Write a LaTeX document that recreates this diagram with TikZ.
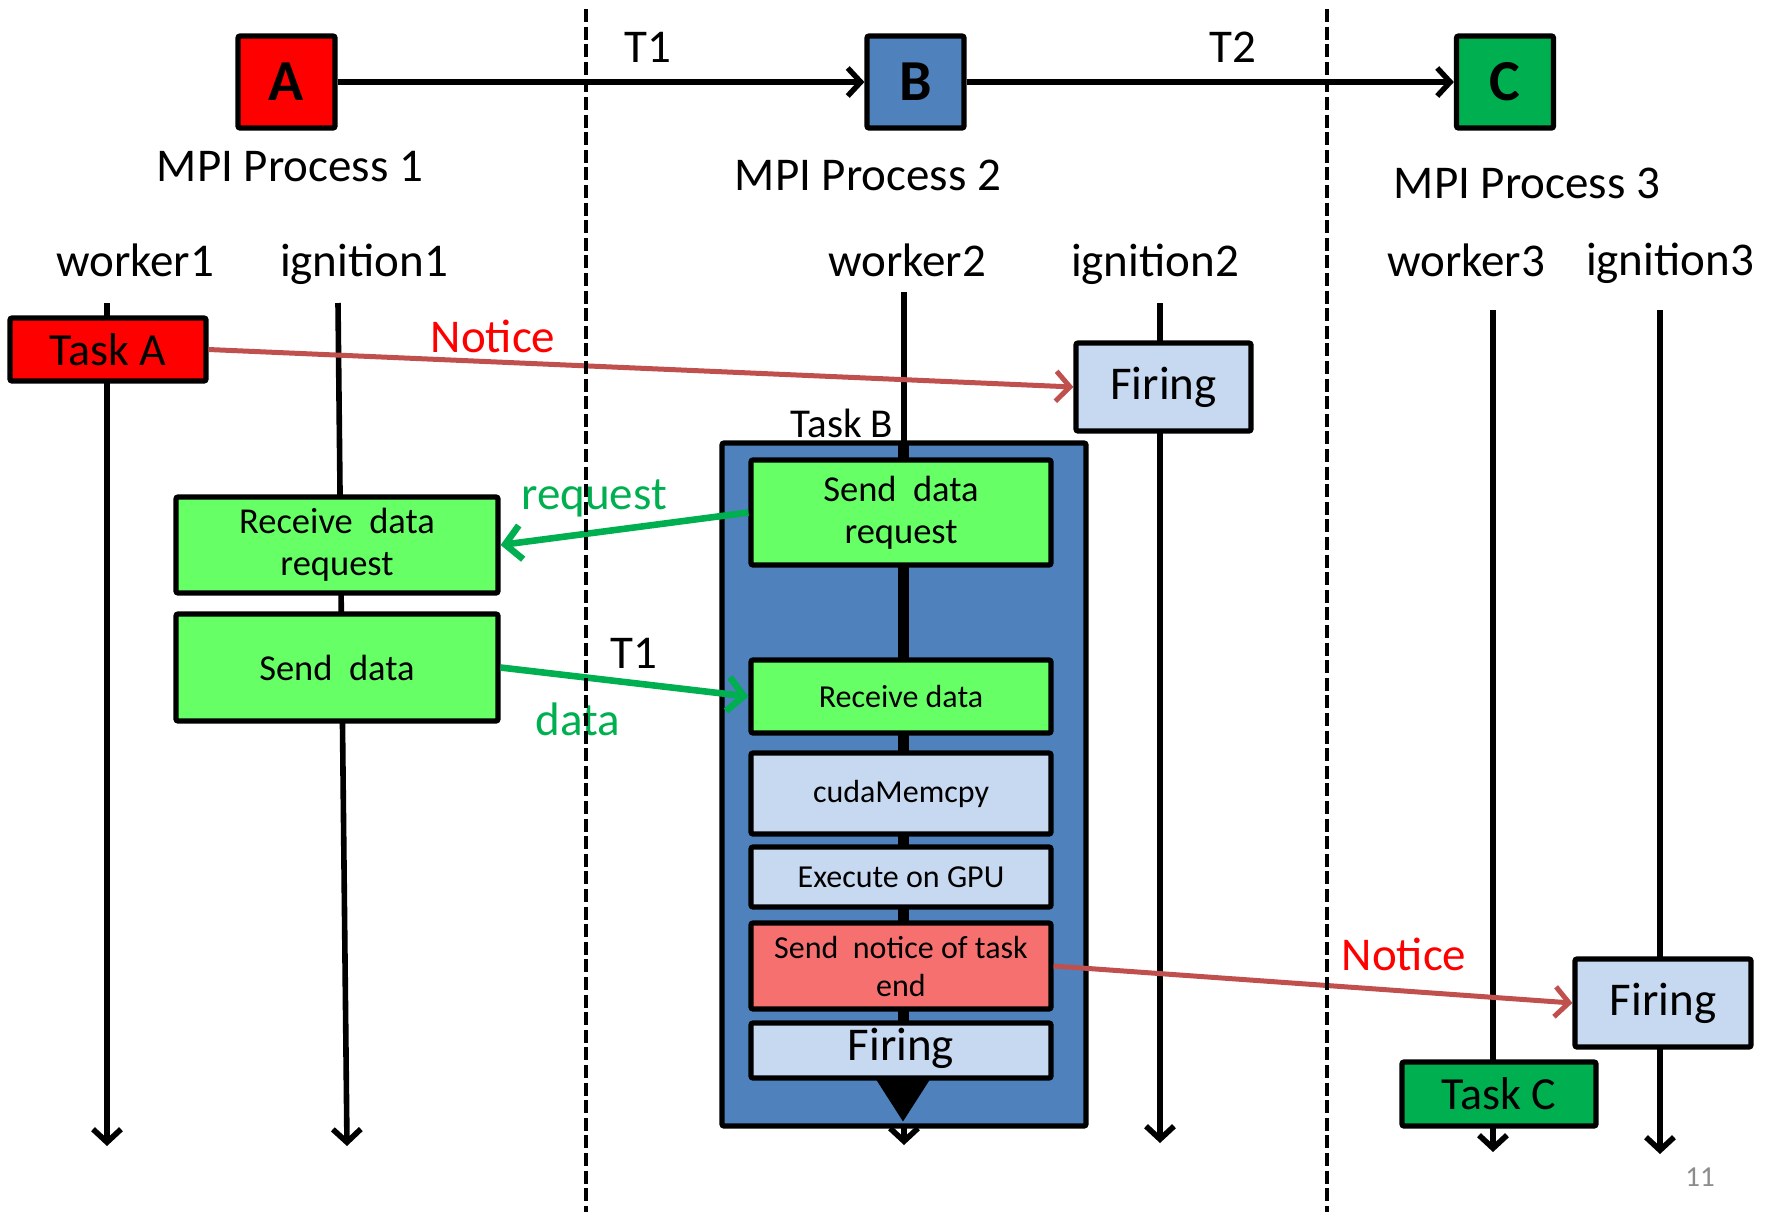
\documentclass[tikz,border=0pt]{standalone}
\usepackage{fontspec}
\setmainfont{Carlito}
\usetikzlibrary{arrows.meta}

\definecolor{procred}{HTML}{FF0000}
\definecolor{procblue}{HTML}{4F81BD}
\definecolor{procgreen}{HTML}{00B050}
\definecolor{stepgreen}{HTML}{66FF66}
\definecolor{steplight}{HTML}{C6D9F1}
\definecolor{stepsalmon}{HTML}{F77070}
\definecolor{noticeline}{HTML}{C0504D}
\definecolor{pagegray}{HTML}{8C8C8C}

\begin{document}
\begin{tikzpicture}[x=0.5pt,y=-0.5pt,
  box/.style={draw, line width=2.6pt, inner sep=0pt, align=center, rounded corners=1pt},
  fs/.style 2 args={font=\fontsize{#1}{#2}\selectfont},
  lbl/.style={anchor=base, inner sep=0pt, font=\fontsize{23.5}{28}\selectfont},
  life/.style={line width=2.8pt, -{Straight Barb[length=6.5pt,width=14pt]}},
  flow/.style={line width=2.7pt, -{Straight Barb[length=6.5pt,width=14pt]}},
  notice/.style={line width=2.5pt, draw=noticeline, -{Straight Barb[length=7pt,width=15pt]}},
  msg/.style={line width=3.3pt, draw=procgreen, -{Straight Barb[length=8pt,width=17pt]}},
  divider/.style={line width=2.4pt, dash pattern=on 6.5pt off 2.3pt}
]
\useasboundingbox (0,0) rectangle (1774,1212);

% lifeline end points
\coordinate (w1t) at (107,303);  \coordinate (w1b) at (107,1146);
\coordinate (i1t) at (338,303);  \coordinate (i1b) at (347,1146);
\coordinate (w2t) at (904,292);  \coordinate (w2b) at (904,1145);
\coordinate (i2t) at (1160,303); \coordinate (i2b) at (1160,1143);
\coordinate (w3t) at (1493,310); \coordinate (w3b) at (1493,1152);
\coordinate (i3t) at (1660,310); \coordinate (i3b) at (1660,1154);

% thread lifelines
\draw[life] (w1t) -- (w1b);
\draw[life] (i1t) -- (i1b);
\draw[life] (w2t) -- (w2b);
\draw[life] (i2t) -- (i2b);
\draw[life] (w3t) -- (w3b);
\draw[life] (i3t) -- (i3b);

% task B container with its internal flow
\node[box, fill=procblue, minimum width=182pt, minimum height=341.5pt] (taskB) at (904,784.5) {};
\coordinate (tbtop) at (903,443);
\coordinate (tbend) at (903,1122);
\draw[line width=5.5pt, -{Triangle[length=21pt,width=25pt]}] (tbtop) -- (tbend);

\node[box, fill=stepgreen, minimum width=150pt, minimum height=52.5pt, fs={18.25}{21}] (sendreq) at (901,512.5) {Send~ data\\request};
\node[box, fill=stepgreen, minimum width=150pt, minimum height=36.5pt, fs={16}{19}] (recvdata) at (901,696.5) {Receive data};
\node[box, fill=steplight, minimum width=150pt, minimum height=40.5pt, fs={16}{19}] (cuda) at (901,793.5) {cudaMemcpy};
\node[box, fill=steplight, minimum width=150pt, minimum height=30pt, fs={16}{19}] (exec) at (901,877) {Execute on GPU};
\node[box, fill=stepsalmon, minimum width=150pt, minimum height=43pt, fs={16}{19}] (sendnotice) at (901,966) {Send~ notice of task\\end};
\node[box, fill=steplight, minimum width=150pt, minimum height=27.5pt, fs={23.5}{28}, text depth=6pt] (fireB) at (901,1050.5) {Firing};

% process 1 steps
\node[box, fill=procred, minimum width=98pt, minimum height=31.5pt, fs={23}{28}] (taskA) at (108,349.5) {Task A};
\node[box, fill=stepgreen, minimum width=161pt, minimum height=48pt, fs={18.25}{21}] (recvreq) at (337,545) {Receive~ data\\request};
\node[box, fill=stepgreen, minimum width=161pt, minimum height=53.5pt, fs={18.25}{21}] (senddata) at (337,667.5) {Send~ data};

% ignition steps and task C
\node[box, fill=steplight, minimum width=87.5pt, minimum height=44pt, fs={23.5}{28}] (fire2) at (1163.5,387) {Firing};
\node[box, fill=steplight, minimum width=88pt, minimum height=44pt, fs={23.5}{28}] (fire3) at (1663,1003) {Firing};
\node[box, fill=procgreen, minimum width=97pt, minimum height=32pt, fs={23}{28}] (taskC) at (1499,1094) {Task C};

% task graph
\node[box, fill=procred, minimum width=48.5pt, minimum height=46pt, font=\fontsize{29}{34}\selectfont\bfseries] (A) at (286.5,82) {A};
\node[box, fill=procblue, minimum width=48.5pt, minimum height=46pt, font=\fontsize{29}{34}\selectfont\bfseries] (B) at (915.5,82) {B};
\node[box, fill=procgreen, minimum width=48.5pt, minimum height=46pt, font=\fontsize{29}{34}\selectfont\bfseries] (C) at (1505,82) {C};
\draw[flow] (A.east) -- (B.west);
\draw[flow] (B.east) -- (C.west);

% messages
\draw[notice] (taskA.east) -- (fire2.west);
\draw[notice] (sendnotice.east) -- (fire3.west);
\draw[msg] (sendreq.west) -- (recvreq.east);
\draw[msg] (senddata.east) -- (recvdata.west);

% labels
\node[lbl] (t1) at (648,62) {T1};
\node[lbl] (t2) at (1233,62) {T2};
\node[lbl] (mpi1) at (290,181) {MPI Process 1};
\node[lbl] (mpi2) at (868,190) {MPI Process 2};
\node[lbl] (mpi3) at (1527,198) {MPI Process 3};
\node[lbl] (lw1) at (135,276) {worker1};
\node[lbl] (li1) at (364,276) {ignition1};
\node[lbl] (lw2) at (907,276) {worker2};
\node[lbl] (li2) at (1155,276) {ignition2};
\node[lbl] (lw3) at (1466,276) {worker3};
\node[lbl] (li3) at (1670,275) {ignition3};
\node[lbl, text=procred] (n1) at (493,352) {Notice};
\node[lbl, text=procred] (n2) at (1404,970) {Notice};
\node[lbl, font=\fontsize{20.5}{24}\selectfont] (tb) at (842,437) {Task B};
\node[lbl, text=procgreen] (lreq) at (594,509) {request};
\node[lbl, text=procgreen] (ldata) at (578,735) {data};
\node[lbl] (t1b) at (634,668) {T1};
\node[lbl, text=pagegray, font=\fontsize{14.5}{17}\selectfont] (pg) at (1700,1186) {11};

% process boundaries
\coordinate (d1t) at (586,9);   \coordinate (d1b) at (586,1212);
\coordinate (d2t) at (1327,9);  \coordinate (d2b) at (1327,1212);
\draw[divider] (d1t) -- (d1b);
\draw[divider] (d2t) -- (d2b);
\end{tikzpicture}
\end{document}
